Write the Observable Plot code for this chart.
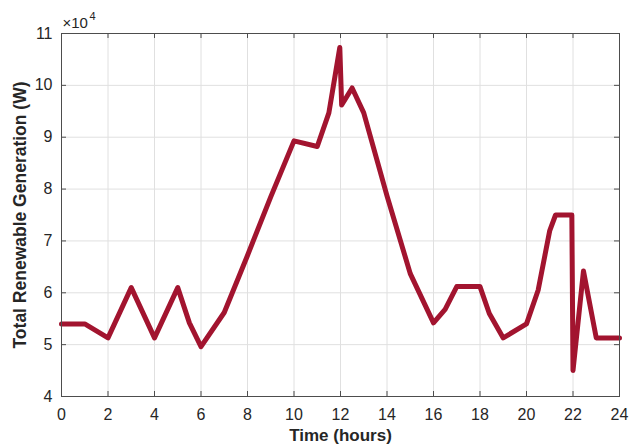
<!DOCTYPE html>
<html>
<head>
<meta charset="utf-8">
<script src="https://cdn.jsdelivr.net/npm/d3@7"></script>
<script src="https://cdn.jsdelivr.net/npm/@observablehq/plot@0.6"></script>
<style>
  body { margin: 0; background: #fff; }
</style>
</head>
<body>
<div id="chart"></div>
<script>
// Total renewable generation over one day (W)
const hours = [0, 1, 2, 3, 4, 5, 5.5, 6, 7, 8, 9, 10, 11, 11.5, 11.97, 12.05, 12.5, 13, 14, 15,
  16, 16.5, 17, 18, 18.4, 19, 20, 20.5, 21, 21.25, 21.95, 22, 22.45, 23, 24];
const generation = [54000, 54000, 51300, 61000, 51300, 61000, 54200, 49600, 56200, 67200, 78500,
  89300, 88200, 94700, 107300, 96200, 99500, 94700, 78700, 63700, 54200, 56800, 61200, 61200,
  56000, 51300, 54000, 60500, 72000, 75000, 75000, 45000, 64200, 51300, 51300];

const xTicks = [0, 2, 4, 6, 8, 10, 12, 14, 16, 18, 20, 22, 24];
const yTicks = [40000, 50000, 60000, 70000, 80000, 90000, 100000, 110000];
const xLabel = "Time (hours)";
const yLabel = "Total Renewable Generation (W)";
const exponentBase = "×10";
const exponent = "4";

const data = hours.map((h, i) => ({hour: h, watts: generation[i]}));

const width = 637, height = 445;
const margin = {top: 33, right: 18, bottom: 49, left: 61};
const innerW = width - margin.left - margin.right;
const innerH = height - margin.top - margin.bottom;
const tickLen = 5;
const ink = "#262626";
const boxColor = "#4d4d4d";
const gridColor = "#e0e0e0";
const font = "'Liberation Sans', Arial, Helvetica, sans-serif";

const chart = Plot.plot({
  width, height,
  marginTop: margin.top, marginRight: margin.right,
  marginBottom: margin.bottom, marginLeft: margin.left,
  style: {fontFamily: font, fontSize: "16px", color: ink, background: "#fff"},
  x: {domain: [0, 24]},
  y: {domain: [40000, 110000]},
  marks: [
    Plot.gridX(xTicks, {stroke: gridColor, strokeOpacity: 1}),
    Plot.gridY(yTicks, {stroke: gridColor, strokeOpacity: 1}),
    // inward tick marks on all four sides of the box
    Plot.tickX(xTicks, {x: d => d, insetTop: innerH - tickLen, stroke: boxColor}),
    Plot.tickX(xTicks, {x: d => d, insetBottom: innerH - tickLen, stroke: boxColor}),
    Plot.tickY(yTicks, {y: d => d, insetRight: innerW - tickLen, stroke: boxColor}),
    Plot.tickY(yTicks, {y: d => d, insetLeft: innerW - tickLen, stroke: boxColor}),
    Plot.line(data, {
      x: "hour", y: "watts",
      stroke: "#A2142F", strokeWidth: 5,
      strokeLinejoin: "round", strokeLinecap: "round"
    }),
    Plot.frame({stroke: boxColor, strokeWidth: 1}),
    Plot.axisX(xTicks, {tickSize: 0, tickPadding: 12, fontSize: 16, fill: ink, label: null}),
    Plot.axisY(yTicks, {tickSize: 0, tickPadding: 9, fontSize: 16, fill: ink, label: null,
      tickFormat: d => d / 1e4}),
    Plot.text([xLabel], {frameAnchor: "bottom", dy: 39, lineAnchor: "middle",
      fontSize: 17, fontWeight: "bold", fill: ink}),
    Plot.text([yLabel], {frameAnchor: "left", dx: -41, rotate: -90, textAnchor: "middle",
      lineAnchor: "middle", fontSize: 17.5, fontWeight: "bold", fill: ink}),
    // axis multiplier above the top-left corner
    Plot.text([exponentBase], {frameAnchor: "top-left", textAnchor: "start", dx: 1, dy: -10,
      lineAnchor: "middle", fontSize: 15, fill: ink}),
    Plot.text([exponent], {frameAnchor: "top-left", textAnchor: "start", dx: 28, dy: -17,
      lineAnchor: "middle", fontSize: 11, fill: ink})
  ]
});

document.getElementById("chart").append(chart);
</script>
</body>
</html>
